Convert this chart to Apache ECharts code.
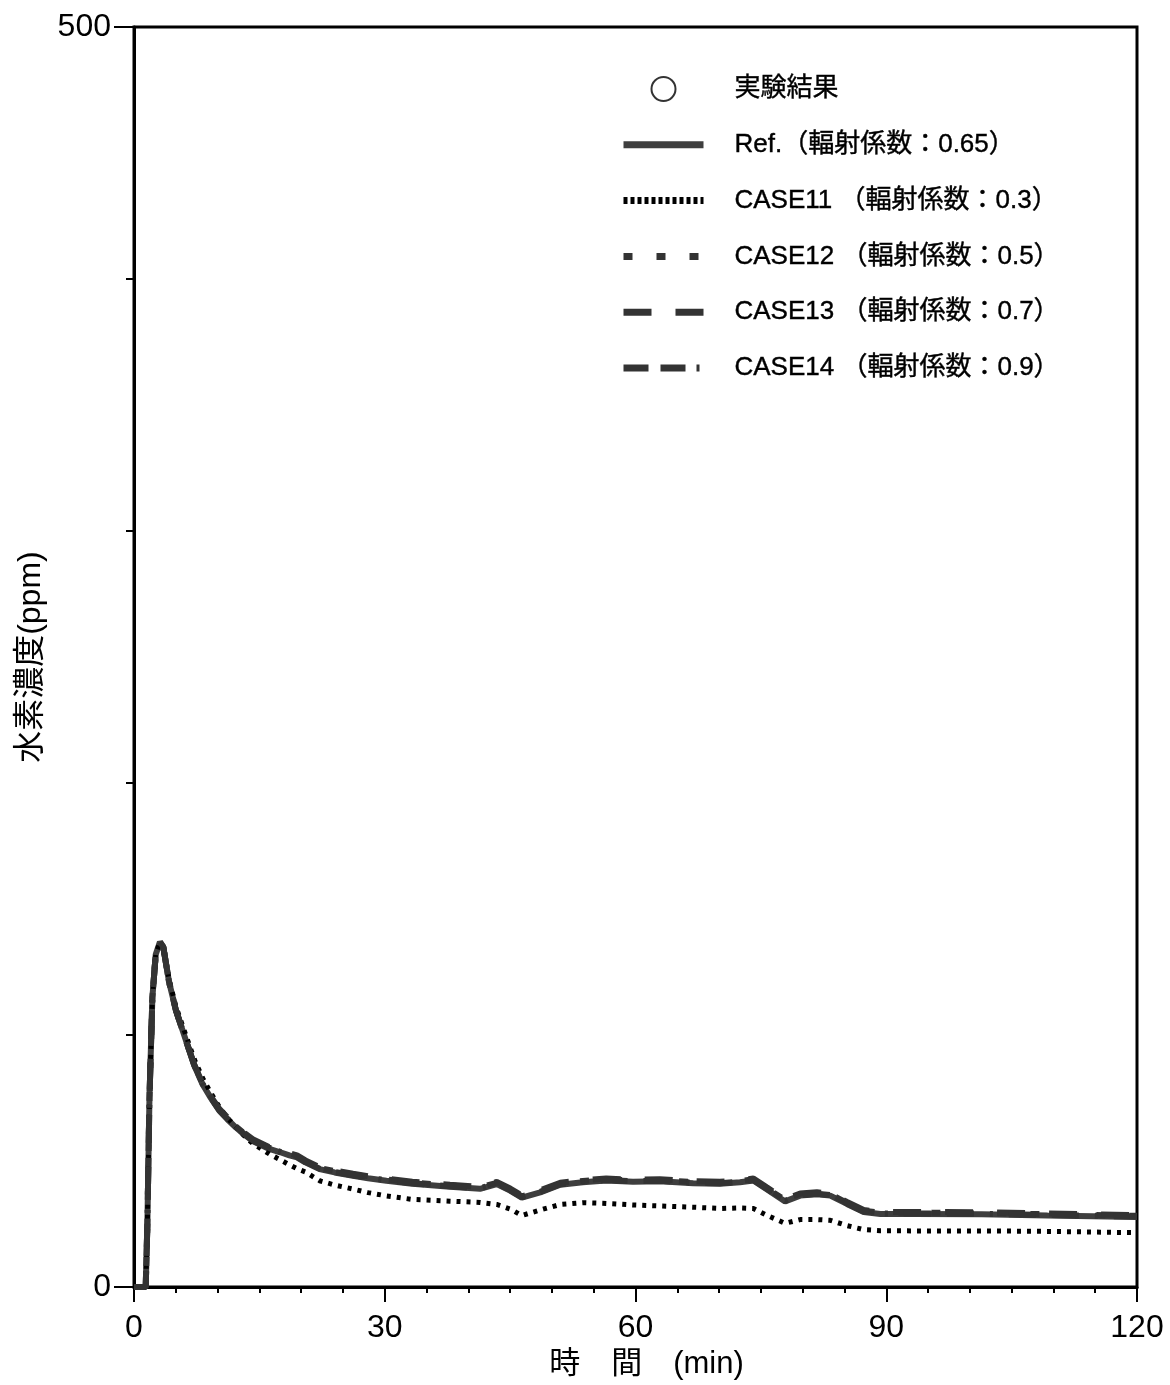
<!DOCTYPE html>
<html>
<head>
<meta charset="utf-8">
<script src="https://cdn.jsdelivr.net/npm/echarts@6/dist/echarts.min.js"></script>
<style>
  html, body { margin: 0; padding: 0; background: #fff; }
  #chart { width: 1170px; height: 1385px; }
</style>
</head>
<body>
<div id="chart"></div>
<script>
// Time axis (min) shared by all simulated series
const times = [0, 1.4, 1.6, 1.85, 2.2, 2.6, 3.1, 3.5, 4.2, 5, 6.2, 7.2, 8.2, 9.2, 10.2, 11.2, 12.2, 13.2, 14.2, 16.2, 17.5, 18.6, 19.5, 20.5, 22.2, 24, 26.2, 28, 30.2, 33.3, 37.8, 41.4, 43.4, 45, 46.4, 48.6, 51, 53.7, 56.5, 59.7, 62.9, 66.9, 70.1, 72.5, 74.1, 75.7, 77.9, 79.7, 81.7, 83.3, 85.3, 87.3, 89.3, 93.3, 101.4, 109.3, 120];

// Hydrogen concentration (ppm) for each emissivity case
const refValues = [0, 0, 25, 75, 115, 132, 137, 135, 121, 110, 98, 88, 80.5, 75, 70, 66.5, 63.3, 60.5, 58, 54.8, 53.5, 52.3, 51.5, 49.5, 46.8, 45.5, 44.2, 43.2, 42.2, 41, 39.8, 39, 40.9, 38.3, 35.5, 37.6, 40.6, 41.6, 42.3, 41.8, 42, 41.2, 41, 41.6, 42.3, 38.8, 34, 36.3, 36.8, 36.3, 33, 29.8, 29, 29, 28.9, 28.4, 27.8];
const case11Values = [0, 0, 25, 75, 115, 132, 137, 135, 122, 111.5, 100, 90.5, 83, 77, 71.5, 67, 63.5, 60, 57, 52.8, 50.5, 48.5, 47, 45.7, 42.2, 40.5, 38.9, 37.5, 36.2, 34.8, 34.1, 33.6, 32.8, 31, 28.4, 30.6, 32.8, 33.5, 33.2, 32.6, 32.2, 31.7, 31.2, 31.4, 31.2, 28.5, 25.3, 26.8, 26.8, 26.5, 24.4, 22.8, 22.4, 22.3, 22.3, 22.1, 21.6];
const case12Values = [0, 0, 25, 75, 115, 132, 137, 135, 121, 110, 98, 88.2, 80.8, 75.3, 70.4, 66.9, 63.7, 60.9, 58.4, 55.2, 53.9, 52.8, 52, 50, 47.3, 46, 44.7, 43.7, 42.7, 41.5, 40.3, 39.5, 41.4, 38.8, 36, 38.1, 41.1, 42.1, 42.8, 42.3, 42.5, 41.7, 41.5, 42.1, 42.8, 39.3, 34.5, 36.8, 37.3, 36.8, 33.5, 30.3, 29.5, 29.5, 29.4, 28.9, 28.3];
const case13Values = [0, 0, 25, 75, 115, 132, 137, 135, 121, 110, 98, 88.3, 81, 75.6, 70.7, 67.2, 64, 61.2, 58.7, 55.5, 54.2, 53.1, 52.3, 50.3, 47.6, 46.3, 45, 44, 43, 41.8, 40.6, 39.8, 41.7, 39.1, 36.3, 38.4, 41.4, 42.4, 43.1, 42.6, 42.8, 42, 41.8, 42.4, 43.1, 39.6, 34.8, 37.1, 37.6, 37.1, 33.8, 30.6, 29.8, 29.8, 29.7, 29.2, 28.6];
const case14Values = [0, 0, 25, 75, 115, 132, 137, 135, 121, 110, 98, 88.1, 80.7, 75.2, 70.2, 66.7, 63.5, 60.7, 58.2, 55, 53.7, 52.5, 51.7, 49.7, 47, 45.7, 44.4, 43.4, 42.4, 41.2, 40, 39.2, 41.1, 38.5, 35.7, 37.8, 40.8, 41.8, 42.5, 42, 42.2, 41.4, 41.2, 41.8, 42.5, 39, 34.2, 36.5, 37, 36.5, 33.2, 30, 29.2, 29.2, 29.1, 28.6, 28];
// Measured points (none plotted)
const experimentPoints = [];

// Labels
const seriesNames = ['実験結果', 'Ref.（輻射係数：0.65）', 'CASE11 （輻射係数：0.3）', 'CASE12 （輻射係数：0.5）', 'CASE13 （輻射係数：0.7）', 'CASE14 （輻射係数：0.9）'];
const xTitle = '時　間　(min)';
const yTitle = '水素濃度(ppm)';

const FONT = "'Liberation Sans', Arial, 'Noto Sans CJK JP', sans-serif";
const pairs = vals => times.map((t, i) => [t, vals[i]]);

// line items in the legend show only the stroke pattern, no marker
const noMarker = { opacity: 0 };

const chart = echarts.init(document.getElementById('chart'), null, { renderer: 'canvas' });

chart.setOption({
  animation: false,
  backgroundColor: '#fff',
  grid: {
    left: 134, right: 33, top: 27, bottom: 94,
    show: true, borderColor: '#000', borderWidth: 3, backgroundColor: 'transparent'
  },
  legend: {
    orient: 'vertical',
    left: 620, top: 75, padding: 0,
    itemWidth: 80, itemHeight: 24, itemGap: 27.8,
    align: 'left',
    textStyle: {
      fontFamily: FONT, fontSize: 26, color: '#000', lineHeight: 28,
      padding: [0, 0, 0, 26], textBorderColor: '#000', textBorderWidth: 0.4
    },
    data: [
      { name: seriesNames[0] },
      { name: seriesNames[1], lineStyle: { width: 7 }, itemStyle: noMarker },
      { name: seriesNames[2], lineStyle: { width: 7, type: [4, 3] }, itemStyle: noMarker },
      { name: seriesNames[3], lineStyle: { width: 7 }, itemStyle: noMarker },
      { name: seriesNames[4], lineStyle: { width: 7 }, itemStyle: noMarker },
      { name: seriesNames[5], lineStyle: { width: 7, type: [25, 12, 25, 11, 3, 100] }, itemStyle: noMarker }
    ]
  },
  xAxis: {
    type: 'value', min: 0, max: 120, interval: 30,
    name: xTitle, nameLocation: 'middle', nameGap: 58,
    nameTextStyle: { fontFamily: FONT, fontSize: 31, color: '#000', padding: [0, 0, 0, 22] },
    axisLine: { lineStyle: { color: '#000', width: 3 } },
    axisTick: { show: true, inside: false, length: 15, lineStyle: { color: '#000', width: 2 } },
    minorTick: { show: true, splitNumber: 6, length: 6, lineStyle: { color: '#000', width: 2 } },
    axisLabel: { fontFamily: FONT, fontSize: 32, color: '#000', margin: 25 },
    splitLine: { show: false }
  },
  yAxis: {
    type: 'value', min: 0, max: 500, interval: 500,
    name: yTitle, nameLocation: 'middle', nameGap: 76, nameRotate: 90,
    nameTextStyle: { fontFamily: FONT, fontSize: 32, color: '#000' },
    axisLine: { show: true, lineStyle: { color: '#000', width: 3 } },
    axisTick: { show: true, inside: false, length: 20, lineStyle: { color: '#000', width: 2 } },
    minorTick: { show: true, splitNumber: 5, length: 8, lineStyle: { color: '#000', width: 2 } },
    axisLabel: { fontFamily: FONT, fontSize: 32, color: '#000', margin: 23 },
    splitLine: { show: false }
  },
  series: [
    {
      name: seriesNames[0], type: 'scatter', data: experimentPoints,
      symbol: 'circle', symbolSize: 22,
      itemStyle: { color: '#fff', borderColor: '#000', borderWidth: 2 }
    },
    {
      name: seriesNames[1], type: 'line', data: pairs(refValues),
      showSymbol: false, symbol: 'none', z: 2,
      lineStyle: { color: '#3e3e3e', width: 6 },
      itemStyle: { color: '#3e3e3e' }
    },
    {
      name: seriesNames[2], type: 'line', data: pairs(case11Values),
      showSymbol: false, symbol: 'none', z: 3,
      lineStyle: { color: '#000', width: 5, type: [4, 6] },
      itemStyle: { color: '#000' }
    },
    {
      name: seriesNames[3], type: 'line', data: pairs(case12Values),
      showSymbol: false, symbol: 'none', z: 4,
      lineStyle: { color: '#333', width: 6, type: [9, 24] },
      itemStyle: { color: '#333' }
    },
    {
      name: seriesNames[4], type: 'line', data: pairs(case13Values),
      showSymbol: false, symbol: 'none', z: 4,
      lineStyle: { color: '#333', width: 6, type: [28, 24] },
      itemStyle: { color: '#333' }
    },
    {
      name: seriesNames[5], type: 'line', data: pairs(case14Values),
      showSymbol: false, symbol: 'none', z: 4,
      lineStyle: { color: '#333', width: 6, type: [27, 16, 27, 16, 3, 16] },
      itemStyle: { color: '#333' }
    }
  ]
});
</script>
</body>
</html>
